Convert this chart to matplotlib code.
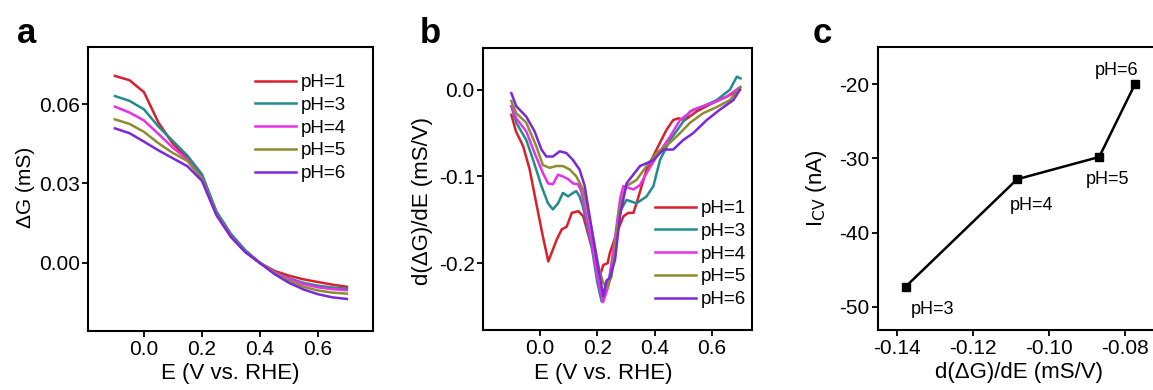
"""Three-panel figure: conductance vs potential, its derivative, and I_CV vs derivative."""

import matplotlib
matplotlib.use("Agg")
import matplotlib.pyplot as plt

plt.rcParams.update({
    "font.family": ["Liberation Sans", "DejaVu Sans"],
    "axes.linewidth": 1.5,
    "xtick.direction": "out",
    "ytick.direction": "out",
    "xtick.major.size": 4,
    "ytick.major.size": 4,
    "xtick.major.width": 1.3,
    "ytick.major.width": 1.3,
    "xtick.major.pad": 2.5,
    "ytick.major.pad": 2,
    "xtick.labelsize": 15,
    "ytick.labelsize": 15,
})

labels = ["pH=1", "pH=3", "pH=4", "pH=5", "pH=6"]
colors = ["#d9202a", "#208c8c", "#e830e8", "#8c8c30", "#7a28d8"]

# panel a: delta G (mS) vs E
e_a = [-0.1, -0.05, 0.0, 0.05, 0.1, 0.15, 0.2, 0.25, 0.3, 0.35, 0.4,
       0.45, 0.5, 0.55, 0.6, 0.65, 0.7]
dg_ph1 = [0.0706, 0.0690, 0.0645, 0.0530, 0.0450, 0.0395, 0.0330, 0.0190, 0.0105, 0.0045, 0.0000,
          -0.0030, -0.0048, -0.0062, -0.0072, -0.0082, -0.0090]
dg_ph3 = [0.0630, 0.0612, 0.0580, 0.0515, 0.0460, 0.0405, 0.0335, 0.0195, 0.0110, 0.0048, 0.0000,
          -0.0035, -0.0058, -0.0075, -0.0086, -0.0093, -0.0097]
dg_ph4 = [0.0590, 0.0568, 0.0538, 0.0487, 0.0435, 0.0390, 0.0320, 0.0185, 0.0102, 0.0042, 0.0000,
          -0.0035, -0.0060, -0.0080, -0.0092, -0.0099, -0.0103]
dg_ph5 = [0.0542, 0.0525, 0.0495, 0.0452, 0.0415, 0.0385, 0.0318, 0.0185, 0.0100, 0.0042, 0.0000,
          -0.0038, -0.0068, -0.0090, -0.0104, -0.0112, -0.0116]
dg_ph6 = [0.0508, 0.0490, 0.0458, 0.0425, 0.0395, 0.0365, 0.0310, 0.0180, 0.0098, 0.0040, 0.0000,
          -0.0042, -0.0075, -0.0100, -0.0118, -0.0130, -0.0136]

# panel b: d(delta G)/dE (mS/V) vs E, each curve has its own sample points
e_b1 = [-0.1, -0.084, -0.059, -0.036, -0.013, 0.01, 0.029, 0.058, 0.076, 0.093, 0.111, 0.134, 0.151,
        0.186, 0.209, 0.221, 0.236, 0.244, 0.268, 0.291, 0.308, 0.326, 0.337, 0.372, 0.419, 0.442,
        0.465, 0.483, 0.506, 0.547, 0.605, 0.652, 0.698]
d_ph1 = [-0.029, -0.048, -0.065, -0.092, -0.131, -0.169, -0.198, -0.173, -0.161, -0.158, -0.142, -0.140, -0.146,
         -0.188, -0.215, -0.202, -0.200, -0.188, -0.165, -0.146, -0.142, -0.142, -0.131, -0.092, -0.061, -0.046,
         -0.035, -0.033, -0.035, -0.025, -0.015, -0.008, 0.000]
e_b3 = [-0.1, -0.083, -0.048, -0.024, 0.005, 0.028, 0.045, 0.063, 0.08, 0.098, 0.115, 0.127, 0.138, 0.15,
        0.18, 0.2, 0.215, 0.24, 0.26, 0.28, 0.302, 0.337, 0.372, 0.396, 0.419, 0.454, 0.489, 0.524, 0.57,
        0.617, 0.663, 0.687, 0.70]
d_ph3 = [-0.019, -0.038, -0.058, -0.081, -0.111, -0.131, -0.138, -0.131, -0.119, -0.123, -0.119, -0.117, -0.123, -0.135,
         -0.180, -0.222, -0.244, -0.220, -0.180, -0.140, -0.127, -0.131, -0.123, -0.111, -0.081, -0.058, -0.042, -0.025, -0.019,
         -0.012, 0.000, 0.015, 0.013]
e_b4 = [-0.1, -0.083, -0.048, -0.019, 0.01, 0.028, 0.045, 0.063, 0.08, 0.098, 0.115, 0.133, 0.144,
        0.18, 0.2, 0.22, 0.24, 0.26, 0.28, 0.291, 0.326, 0.349, 0.372, 0.407, 0.454, 0.489, 0.535,
        0.605, 0.652, 0.698]
d_ph4 = [-0.019, -0.033, -0.048, -0.073, -0.096, -0.108, -0.109, -0.098, -0.100, -0.103, -0.108, -0.109, -0.117,
         -0.175, -0.215, -0.245, -0.225, -0.175, -0.125, -0.111, -0.115, -0.110, -0.096, -0.077, -0.054, -0.035, -0.023,
         -0.015, -0.008, 0.003]
e_b5 = [-0.1, -0.083, -0.048, -0.013, 0.01, 0.034, 0.057, 0.08, 0.104, 0.127, 0.15,
        0.18, 0.205, 0.22, 0.233, 0.25, 0.265, 0.279, 0.302, 0.337, 0.372, 0.407, 0.454, 0.489,
        0.524, 0.57, 0.617, 0.663, 0.70]
d_ph5 = [-0.013, -0.027, -0.038, -0.065, -0.087, -0.090, -0.088, -0.088, -0.092, -0.100, -0.115,
         -0.160, -0.205, -0.222, -0.229, -0.215, -0.170, -0.135, -0.111, -0.104, -0.088, -0.073, -0.061, -0.050,
         -0.038, -0.027, -0.020, -0.012, 0.003]
e_b6 = [-0.1, -0.083, -0.048, -0.019, 0.005, 0.022, 0.045, 0.069, 0.092, 0.115, 0.138, 0.156,
        0.19, 0.221, 0.232, 0.244, 0.262, 0.279, 0.302, 0.349, 0.384, 0.396, 0.431, 0.465, 0.5,
        0.535, 0.582, 0.628, 0.675, 0.698]
d_ph6 = [-0.004, -0.019, -0.031, -0.048, -0.069, -0.077, -0.077, -0.071, -0.073, -0.081, -0.092, -0.111,
         -0.180, -0.238, -0.220, -0.217, -0.196, -0.146, -0.108, -0.088, -0.083, -0.081, -0.069, -0.069, -0.058,
         -0.050, -0.035, -0.023, -0.012, 0.000]

# panel c: I_CV vs derivative minimum
c_x = [-0.1377, -0.1084, -0.0868, -0.0774]
c_y = [-47.25, -32.8, -29.8, -20.0]
c_labels = ["pH=3", "pH=4", "pH=5", "pH=6"]
c_offsets = [(27, -23), (14, -26), (8, -23), (-18, 14)]

fig = plt.figure(figsize=(11.53, 3.9), dpi=100)
ax_a = fig.add_axes([0.0763, 0.1513, 0.2472, 0.728])
ax_b = fig.add_axes([0.4189, 0.1538, 0.2333, 0.723])
ax_c = fig.add_axes([0.7615, 0.1538, 0.2446, 0.7256])

leg_kw = dict(loc="upper left", frameon=False, fontsize=13.5, handlelength=2.2,
              handletextpad=0.25, labelspacing=0.3, borderaxespad=0, borderpad=0)

# a
for y, c, lab in zip([dg_ph1, dg_ph3, dg_ph4, dg_ph5, dg_ph6], colors, labels):
    ax_a.plot(e_a, y, color=c, lw=1.8, label=lab)
ax_a.set_xlim(-0.193, 0.79)
ax_a.set_ylim(-0.0257, 0.0815)
ax_a.set_xticks([0.0, 0.2, 0.4, 0.6])
ax_a.set_xticklabels(["0.0", "0.2", "0.4", "0.6"])
ax_a.set_yticks([0.0, 0.03, 0.06])
ax_a.set_yticklabels(["0.00", "0.03", "0.06"])
ax_a.set_xlabel("E (V vs. RHE)", fontsize=16)
ax_a.set_ylabel("ΔG (mS)", fontsize=15)
ax_a.xaxis.set_label_coords(0.5, -0.112)
ax_a.yaxis.set_label_coords(-0.185, 0.507)
ax_a.legend(bbox_to_anchor=(0.586, 0.905), **leg_kw)

# b
for x, y, c, lab in zip([e_b1, e_b3, e_b4, e_b5, e_b6], [d_ph1, d_ph3, d_ph4, d_ph5, d_ph6], colors, labels):
    ax_b.plot(x, y, color=c, lw=1.8, label=lab)
ax_b.set_xlim(-0.199, 0.74)
ax_b.set_ylim(-0.277, 0.048)
ax_b.set_xticks([0.0, 0.2, 0.4, 0.6])
ax_b.set_xticklabels(["0.0", "0.2", "0.4", "0.6"])
ax_b.set_yticks([-0.2, -0.1, 0.0])
ax_b.set_yticklabels(["-0.2", "-0.1", "0.0"])
ax_b.set_xlabel("E (V vs. RHE)", fontsize=16)
ax_b.set_ylabel("d(ΔG)/dE (mS/V)", fontsize=16)
ax_b.xaxis.set_label_coords(0.446, -0.118)
ax_b.yaxis.set_label_coords(-0.186, 0.457)
ax_b.legend(bbox_to_anchor=(0.64, 0.461), **leg_kw)

# c
ax_c.plot(c_x, c_y, color="black", lw=1.8, marker="s", markersize=6)
for x, y, lab, off in zip(c_x, c_y, c_labels, c_offsets):
    ax_c.annotate(lab, (x, y), xytext=off, textcoords="offset pixels",
                  ha="center", va="center", fontsize=13)
ax_c.set_xlim(-0.145, -0.0708)
ax_c.set_ylim(-53.1, -15.0)
ax_c.set_xticks([-0.14, -0.12, -0.10, -0.08])
ax_c.set_xticklabels(["-0.14", "-0.12", "-0.10", "-0.08"])
ax_c.set_yticks([-50, -40, -30, -20])
ax_c.set_yticklabels(["-50", "-40", "-30", "-20"])
ax_c.set_xlabel("d(ΔG)/dE (mS/V)", fontsize=16)
ax_c.set_ylabel(r"I$_{\mathrm{CV}}$ (nA)", fontsize=16)
ax_c.xaxis.set_label_coords(0.5, -0.112)
ax_c.yaxis.set_label_coords(-0.175, 0.5)

for x, letter in [(0.0145, "a"), (0.364, "b"), (0.705, "c")]:
    fig.text(x, 0.89, letter, fontsize=25, fontweight="bold", va="baseline")

fig.savefig("out.png", dpi=100)
